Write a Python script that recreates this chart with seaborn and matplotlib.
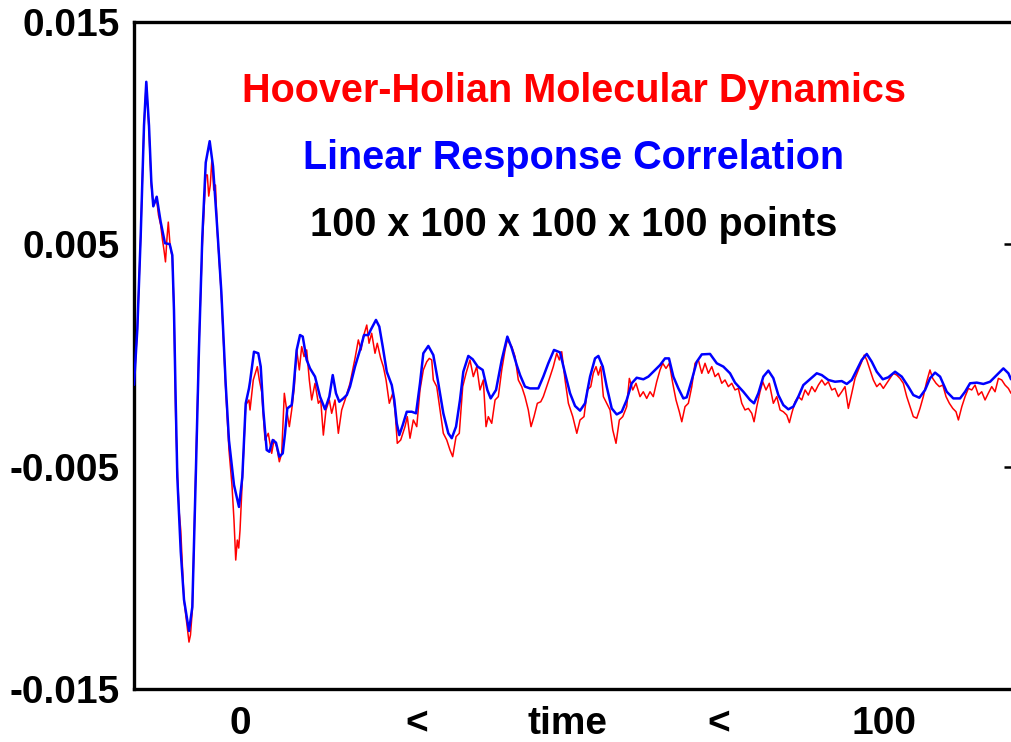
import matplotlib
matplotlib.use("Agg")
import matplotlib.pyplot as plt
import seaborn as sns
import pandas as pd

# ---- data (time in axis units 0..100, values in units of 1e-3) ----
blue_t = [0.00, 0.38, 0.76, 1.14, 1.40, 1.71, 1.97, 2.20, 2.59, 3.04, 3.53, 4.07, 4.37, 4.56, 4.76,
          4.94, 5.33, 5.70, 6.27, 6.65, 7.04, 7.41, 7.79, 8.18, 8.63, 9.01, 9.50, 9.96, 10.46, 10.83,
          11.40, 11.97, 12.35, 12.74, 13.11, 13.23, 13.68, 14.17, 14.45, 14.74, 15.13, 15.43, 15.82,
          16.19, 16.57, 16.96, 17.22, 17.48, 17.98, 18.17, 18.55, 18.93, 19.24, 19.69, 20.07, 20.64,
          21.21, 21.78, 22.27, 22.66, 23.03, 23.41, 23.87, 24.26, 24.63, 25.20, 25.77, 26.23, 26.72,
          26.99, 27.59, 27.97, 28.36, 28.82, 29.39, 29.68, 29.96, 30.25, 30.64, 31.10, 31.67, 32.16,
          32.61, 32.99, 33.56, 34.13, 34.70, 35.27, 35.84, 36.23, 36.72, 37.17, 37.55, 38.12, 38.62,
          39.19, 39.76, 40.29, 40.67, 41.28, 41.93, 42.57, 43.07, 43.64, 44.02, 44.58, 45.15, 46.10,
          46.67, 47.24, 47.89, 48.58, 49.15, 49.72, 50.29, 50.86, 51.43, 52.00, 52.57, 52.95, 53.45,
          53.90, 54.47, 55.04, 55.61, 56.18, 56.75, 57.32, 58.08, 58.65, 59.21, 59.98, 60.55, 61.00,
          61.50, 62.07, 62.64, 63.02, 63.60, 64.17, 64.74, 65.68, 66.45, 67.20, 67.96, 68.53, 69.48,
          70.24, 70.70, 71.19, 71.76, 72.33, 72.90, 73.47, 74.04, 74.61, 75.18, 75.75, 76.32, 77.08,
          77.85, 78.42, 79.17, 79.93, 80.70, 81.27, 81.84, 82.41, 82.98, 83.55, 84.12, 84.69, 85.38,
          86.01, 86.78, 87.54, 88.29, 88.86, 89.55, 90.20, 90.77, 91.34, 91.91, 92.67, 93.42, 94.19,
          94.76, 95.33, 96.09, 96.85, 97.61, 98.37, 99.13, 99.70, 100.00]
blue_v = [-1.32, 1.19, 5.34, 10.34, 12.31, 10.34, 7.85, 6.71, 7.14, 6.01, 5.05, 5.01, 4.51, 2.01, -2.14,
          -5.48, -8.82, -10.98, -12.39, -11.31, -5.48, 0.35, 5.34, 8.68, 9.64, 8.51, 5.68, 2.85, -1.32, -3.82,
          -5.82, -6.81, -5.48, -2.15, -1.48, -1.18, 0.17, 0.10, -0.50, -2.45, -4.25, -4.33, -3.80,
          -3.92, -4.55, -4.40, -3.50, -2.38, -2.23, -1.55, 0.25, 0.92, 0.85, -0.20, -0.58, -0.95,
          -1.85, -2.42, -1.85, -0.88, -1.70, -2.08, -1.93, -1.78, -1.40, -0.50, 0.25, 0.92, 0.92,
          1.15, 1.60, 1.30, 0.40, -0.73, -1.33, -2.00, -3.05, -3.58, -3.13, -2.53, -2.53, -2.60,
          -1.25, 0.10, 0.43, 0.02, -1.25, -2.60, -3.50, -3.72, -3.20, -2.00, -0.73, -0.02, -0.17,
          -0.50, -0.65, -1.55, -1.93, -1.55, -0.20, 0.85, 0.33, -0.43, -0.88, -1.40, -1.48, -1.48,
          -0.95, -0.35, 0.25, 0.14, -0.80, -1.70, -2.27, -2.48, -2.15, -0.95, -0.13, -0.02, -0.50,
          -1.40, -2.38, -2.65, -2.53, -2.00, -1.25, -1.00, -1.07, -0.95, -0.73, -0.43, -0.13, -0.13,
          -0.95, -1.48, -1.93, -1.88, -1.10, -0.28, 0.05, 0.07, -0.35, -0.50, -0.80, -1.22, -1.63,
          -2.00, -2.15, -1.70, -0.95, -0.68, -1.02, -1.78, -2.23, -2.42, -2.30, -1.85, -1.33, -1.07,
          -0.80, -0.88, -1.10, -1.18, -1.15, -1.28, -1.10, -0.65, -0.20, 0.07, -0.28, -0.73, -1.07,
          -0.98, -0.73, -0.95, -1.40, -1.78, -1.90, -1.55, -1.02, -0.77, -0.95, -1.63, -1.93, -1.93,
          -1.63, -1.25, -1.22, -1.28, -1.18, -0.88, -0.58, -0.80, -1.07]

red_t = [0.00, 0.38, 0.76, 1.14, 1.40, 1.71, 1.97, 2.20, 2.59, 2.79, 3.04, 3.25, 3.42, 3.59, 3.76, 3.91,
         4.11, 4.37, 4.56, 4.76, 4.94, 5.13, 5.33, 5.70, 6.04, 6.27, 6.44, 6.65, 7.04, 7.41, 7.79, 8.18,
         8.36, 8.52, 8.70, 8.89, 9.09, 9.29, 9.50, 9.96, 10.46, 10.83, 11.17, 11.40, 11.60, 11.78, 11.94,
         12.09, 12.35, 12.74, 13.11, 13.23, 13.60, 14.06, 14.29, 14.56, 14.94, 15.31, 15.70, 15.96,
         16.27, 16.57, 16.84, 17.14, 17.41, 17.71, 17.98, 18.28, 18.55, 18.85, 19.12, 19.39, 19.69,
         19.99, 20.26, 20.64, 21.02, 21.29, 21.59, 21.89, 22.27, 22.54, 22.92, 23.30, 23.68, 24.06,
         24.63, 25.20, 25.58, 25.89, 26.15, 26.54, 26.80, 27.10, 27.48, 27.74, 28.13, 28.43, 28.74,
         29.11, 29.50, 29.76, 30.02, 30.41, 30.90, 31.16, 31.47, 31.85, 32.24, 32.61, 32.99, 33.38,
         33.67, 33.95, 34.13, 34.52, 34.89, 35.27, 35.66, 36.03, 36.34, 36.72, 37.09, 37.48, 37.86,
         38.31, 38.69, 39.08, 39.45, 39.83, 40.14, 40.40, 40.79, 41.17, 41.54, 41.93, 42.31, 42.57,
         43.07, 43.45, 43.82, 44.21, 44.58, 44.96, 45.27, 45.61, 45.99, 46.38, 46.67, 47.06, 47.44,
         47.81, 48.20, 48.50, 48.77, 49.15, 49.53, 50.03, 50.49, 50.86, 51.31, 51.69, 52.08, 52.37,
         52.68, 52.95, 53.22, 53.52, 53.90, 54.28, 54.59, 54.96, 55.34, 55.73, 56.18, 56.48, 56.87,
         57.24, 57.70, 58.07, 58.46, 58.84, 59.21, 59.60, 59.98, 60.29, 60.66, 61.04, 61.43, 61.80,
         62.18, 62.46, 62.83, 63.21, 63.60, 63.97, 64.35, 64.74, 65.11, 65.49, 65.88, 66.25, 66.63,
         67.02, 67.39, 67.77, 68.16, 68.53, 68.91, 69.30, 69.67, 70.05, 70.44, 70.70, 71.01, 71.38,
         71.69, 72.06, 72.44, 72.90, 73.29, 73.67, 74.04, 74.43, 74.73, 75.00, 75.38, 75.75, 76.14,
         76.52, 76.89, 77.28, 77.65, 78.03, 78.42, 78.79, 79.17, 79.56, 79.93, 80.31, 80.70, 81.07,
         81.45, 81.84, 82.21, 82.59, 82.98, 83.27, 83.55, 83.92, 84.30, 84.69, 85.06, 85.44, 85.83,
         86.20, 86.58, 86.97, 87.34, 87.72, 88.11, 88.48, 88.86, 89.25, 89.62, 90.00, 90.38, 90.76,
         91.07, 91.45, 91.83, 92.22, 92.59, 92.97, 93.36, 93.73, 94.00, 94.39, 94.76, 95.14, 95.52,
         95.90, 96.28, 96.66, 97.04, 97.41, 97.80, 98.18, 98.56, 98.94, 99.32, 99.70, 100.00]
red_v = [-1.33, 1.19, 5.34, 10.34, 12.30, 10.14, 7.67, 6.77, 6.99, 6.32, 5.87, 5.19, 4.74, 4.21, 5.28, 6.00,
         4.97, 4.39, 2.05, -2.90, -5.15, -6.95, -7.85, -11.00, -12.12, -12.89, -12.57, -11.45, -5.15, 0.47, 4.97, 8.12,
         8.12, 7.17, 7.67, 8.88, 7.44, 7.67, 5.55, 2.72, -1.55, -4.25, -5.83, -7.40, -9.20, -8.30, -8.66,
         -7.85, -5.60, -2.23, -2.00, -2.45, -1.10, -0.50, -1.10, -1.63, -3.80, -3.50, -4.40, -3.80,
         -4.10, -4.78, -4.40, -1.70, -2.45, -3.20, -2.45, -1.40, 0.25, -0.65, 0.40, -0.05, 0.25,
         -1.10, -2.00, -1.25, -2.15, -2.00, -3.58, -2.45, -2.00, -2.60, -2.00, -3.50, -2.45, -2.00,
         -1.25, -0.13, 0.70, 0.25, 0.85, 1.37, 0.55, 1.00, 0.10, 0.55, -0.13, -0.50, -1.10,
         -2.15, -1.70, -2.45, -3.95, -3.80, -3.20, -2.75, -3.72, -2.90, -3.20, -1.55, -0.65, -0.28,
         -0.13, -0.20, -1.10, -1.40, -2.45, -3.50, -3.80, -4.25, -4.55, -3.65, -3.50, -1.40, -0.80,
         -0.20, -0.95, -0.50, -1.55, -1.10, -3.20, -2.75, -3.05, -2.00, -1.85, -0.65, 0.25, 0.70,
         0.40, -0.05, -1.10, -1.40, -1.85, -2.45, -3.20, -2.75, -2.15, -2.08, -1.85, -1.40, -0.95,
         -0.50, 0.10, -0.20, 0.17, -1.10, -2.15, -2.75, -3.50, -2.90, -2.75, -1.55, -1.40, -0.80,
         -0.50, -0.88, -0.50, -1.85, -2.15, -2.45, -3.35, -3.95, -2.90, -2.75, -2.30, -1.03, -1.55,
         -1.25, -1.85, -1.63, -1.93, -1.63, -1.85, -1.18, -0.65, -0.35, -0.58, -0.35, -1.25, -2.00,
         -2.53, -2.98, -2.30, -2.15, -1.40, -0.35, -0.20, -0.80, -0.35, -0.80, -0.50, -0.95, -0.80,
         -1.25, -1.10, -1.40, -1.25, -1.55, -1.48, -2.15, -2.45, -2.38, -2.60, -2.98, -2.30, -1.63,
         -1.18, -1.55, -1.25, -2.15, -1.85, -2.45, -2.53, -2.68, -3.02, -2.60, -2.08, -1.85, -2.00,
         -1.55, -1.78, -1.40, -1.63, -1.33, -1.10, -1.33, -1.18, -1.55, -1.48, -1.85, -1.63, -1.40,
         -2.38, -1.70, -1.03, -0.65, -0.28, 0.02, -0.20, -0.65, -1.10, -1.40, -1.25, -1.48, -1.25,
         -1.03, -0.80, -0.88, -1.03, -1.25, -1.85, -2.30, -2.75, -2.82, -2.38, -1.85, -1.18, -0.65,
         -1.03, -1.25, -1.40, -1.33, -1.85, -2.15, -2.38, -2.53, -2.90, -2.30, -1.85, -1.48, -1.55,
         -1.33, -1.78, -1.63, -2.00, -1.70, -1.40, -1.63, -1.03, -1.10, -1.33, -1.48, -1.70]

y_ticks = [-0.015, -0.005, 0.005, 0.015]
y_tick_labels = ["-0.015", "-0.005", "0.005", "0.015"]
x_ticks = [20, 40, 60, 80]
x_words = ["0", "<", "time", "<", "100"]
titles = ["Hoover-Holian Molecular Dynamics", "Linear Response Correlation",
          "100 x 100 x 100 x 100 points"]
title_colors = ["#ff0000", "#0000ff", "#000000"]

SCALE = 1e-3
red_df = pd.DataFrame({"t": red_t, "v": [v * SCALE for v in red_v]})
blue_df = pd.DataFrame({"t": blue_t, "v": [v * SCALE for v in blue_v]})

sns.set_style("white")
plt.rcParams["font.family"] = ["Liberation Sans", "DejaVu Sans"]
plt.rcParams["font.weight"] = "bold"
plt.rcParams["text.color"] = "black"
plt.rcParams["xtick.color"] = "black"
plt.rcParams["ytick.color"] = "black"
plt.rcParams["axes.labelcolor"] = "black"

W, H = 1011, 742
fig = plt.figure(figsize=(W / 100, H / 100), dpi=100)
ax = fig.add_axes([134 / W, 1 - 689 / H, 880 / W, (689 - 22) / H])

sns.lineplot(data=red_df, x="t", y="v", ax=ax, color="#ff0000", linewidth=1.1,
             sort=False, estimator=None, zorder=2)
sns.lineplot(data=blue_df, x="t", y="v", ax=ax, color="#0000ff", linewidth=1.8,
             sort=False, estimator=None, zorder=3)

ax.set_xlim(0, 100.34)
ax.set_ylim(-0.015, 0.015)
ax.set_xticks(x_ticks)
ax.set_xticklabels([""] * len(x_ticks))
ax.set_yticks(y_ticks)
ax.set_yticklabels(y_tick_labels, fontsize=28, fontweight="bold", color="black")
ax.set_xlabel("")
ax.set_ylabel("")
ax.tick_params(axis="both", direction="in", length=7, width=1.8, color="black",
               labelcolor="black", right=True, top=False, pad=10)
ax.tick_params(axis="y", labelright=False)
for s in ax.spines.values():
    s.set_color("black")
    s.set_linewidth(2.4)

# axis words below the plot
word_px = [240, 417, 568, 719, 884]
for w, px in zip(x_words, word_px):
    fig.text(px / W, 1 - 734 / H, w, ha="center", va="baseline", fontsize=28,
             fontweight="bold", color="black")

# title block inside the plot
base_px = [102, 169, 236]
for t, c, b in zip(titles, title_colors, base_px):
    fig.text(574 / W, 1 - b / H, t, ha="center", va="baseline", fontsize=28.5,
             fontweight="bold", color=c)

fig.savefig("out.png", dpi=100)
